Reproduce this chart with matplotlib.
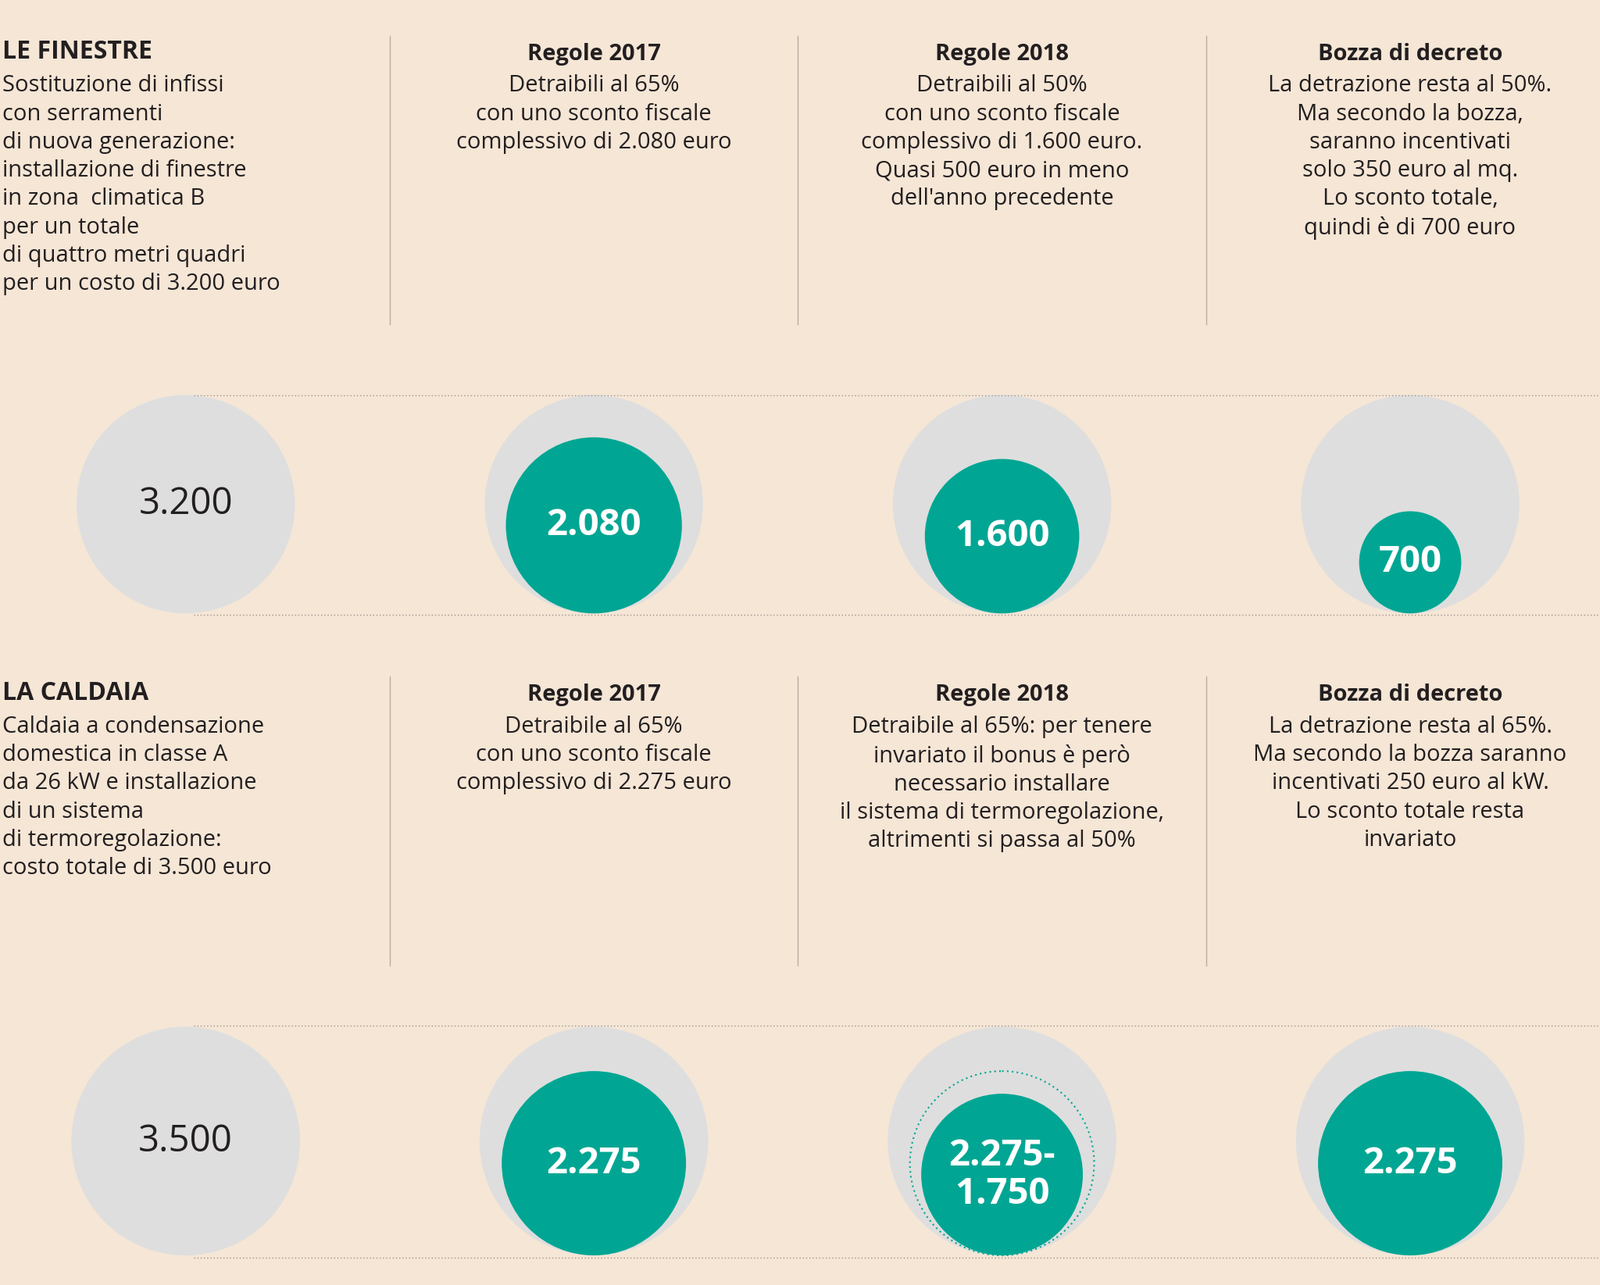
import matplotlib.pyplot as plt
from matplotlib.patches import Circle

# dati
colonne = ["", "Regole 2017", "Regole 2018", "Bozza di decreto"]
fin_valori = [3200, 2080, 1600, 700]
fin_etichette = ["3.200", "2.080", "1.600", "700"]
cal_valori = [3500, 2275, 1750, 2275]
cal_etichette = ["3.500", "2.275", "2.275-\n1.750", "2.275"]
cal_tratteggio = [None, None, 2275, None]

fin_titolo = "LE FINESTRE"
fin_testi = [
    "Sostituzione di infissi\ncon serramenti\ndi nuova generazione:\ninstallazione di finestre\nin zona  climatica B\nper un totale\ndi quattro metri quadri\nper un costo di 3.200 euro",
    "Detraibili al 65%\ncon uno sconto fiscale\ncomplessivo di 2.080 euro",
    "Detraibili al 50%\ncon uno sconto fiscale\ncomplessivo di 1.600 euro.\nQuasi 500 euro in meno\ndell'anno precedente",
    "La detrazione resta al 50%.\nMa secondo la bozza,\nsaranno incentivati\nsolo 350 euro al mq.\nLo sconto totale,\nquindi è di 700 euro",
]
cal_titolo = "LA CALDAIA"
cal_testi = [
    "Caldaia a condensazione\ndomestica in classe A\nda 26 kW e installazione\ndi un sistema\ndi termoregolazione:\ncosto totale di 3.500 euro",
    "Detraibile al 65%\ncon uno sconto fiscale\ncomplessivo di 2.275 euro",
    "Detraibile al 65%: per tenere\ninvariato il bonus è però\nnecessario installare\nil sistema di termoregolazione,\naltrimenti si passa al 50%",
    "La detrazione resta al 65%.\nMa secondo la bozza saranno\nincentivati 250 euro al kW.\nLo sconto totale resta\ninvariato",
]

BG = "#F5E6D6"
GRIGIO = "#DEDEDE"
VERDE = "#00A693"
TESTO = "#231F20"
plt.rcParams["font.family"] = "Open Sans"

fig = plt.figure(figsize=(20.48, 16.45), dpi=100, facecolor=BG)
ax = fig.add_axes([0, 0, 1, 1])
ax.set_xlim(0, 1568)
ax.set_ylim(1259, 0)
ax.axis("off")
ax.set_facecolor(BG)

xc = [182, 582, 982, 1382]


def sezione(y0, titolo, testi, valori, etichette, tratt, r_max, cy, fondo, linee):
    ax.text(2, y0, titolo, fontsize=23, fontweight="bold", color=TESTO, va="center")
    ax.text(2, y0 + 22, testi[0], fontsize=21, color=TESTO, va="top", linespacing=1.33)
    for i in range(1, 4):
        ax.text(xc[i], y0 + 2, colonne[i], fontsize=21, fontweight="bold", color=TESTO,
                va="center", ha="center")
        ax.text(xc[i], y0 + 22, testi[i], fontsize=21, color=TESTO, va="top",
                ha="center", linespacing=1.33)
    for x in (382, 782, 1182):
        ax.plot([x, x], [y0 - 16, y0 + 267], color="#B8ADA3", lw=1)
    for y in linee:
        ax.plot([190, 1568], [y, y], color="#9C948C", lw=1, ls=(0, (1, 2)))
    for i, v in enumerate(valori):
        ax.add_patch(Circle((xc[i], cy), r_max, color=GRIGIO, lw=0))
        if i == 0:
            ax.text(xc[i], cy, etichette[i], fontsize=34, color=TESTO, ha="center", va="center")
            continue
        r = r_max * (v / valori[0]) ** 0.5
        ax.add_patch(Circle((xc[i], fondo - r), r, color=VERDE, lw=0))
        if tratt[i]:
            rt = r_max * (tratt[i] / valori[0]) ** 0.5
            ax.add_patch(Circle((xc[i], fondo - rt), rt, fill=False, ec=VERDE, lw=1.5,
                                ls=(0, (1, 2))))
        ax.text(xc[i], fondo - r, etichette[i], fontsize=34, fontweight="bold", color="white",
                ha="center", va="center", linespacing=1.05)


sezione(51, fin_titolo, fin_testi, fin_valori, fin_etichette, [None] * 4,
        107, 494, 601, [387, 602])
sezione(679, cal_titolo, cal_testi, cal_valori, cal_etichette, cal_tratteggio,
        112, 1118, 1230, [1005, 1232])

fig.savefig("out.png", dpi=100, facecolor=BG)
